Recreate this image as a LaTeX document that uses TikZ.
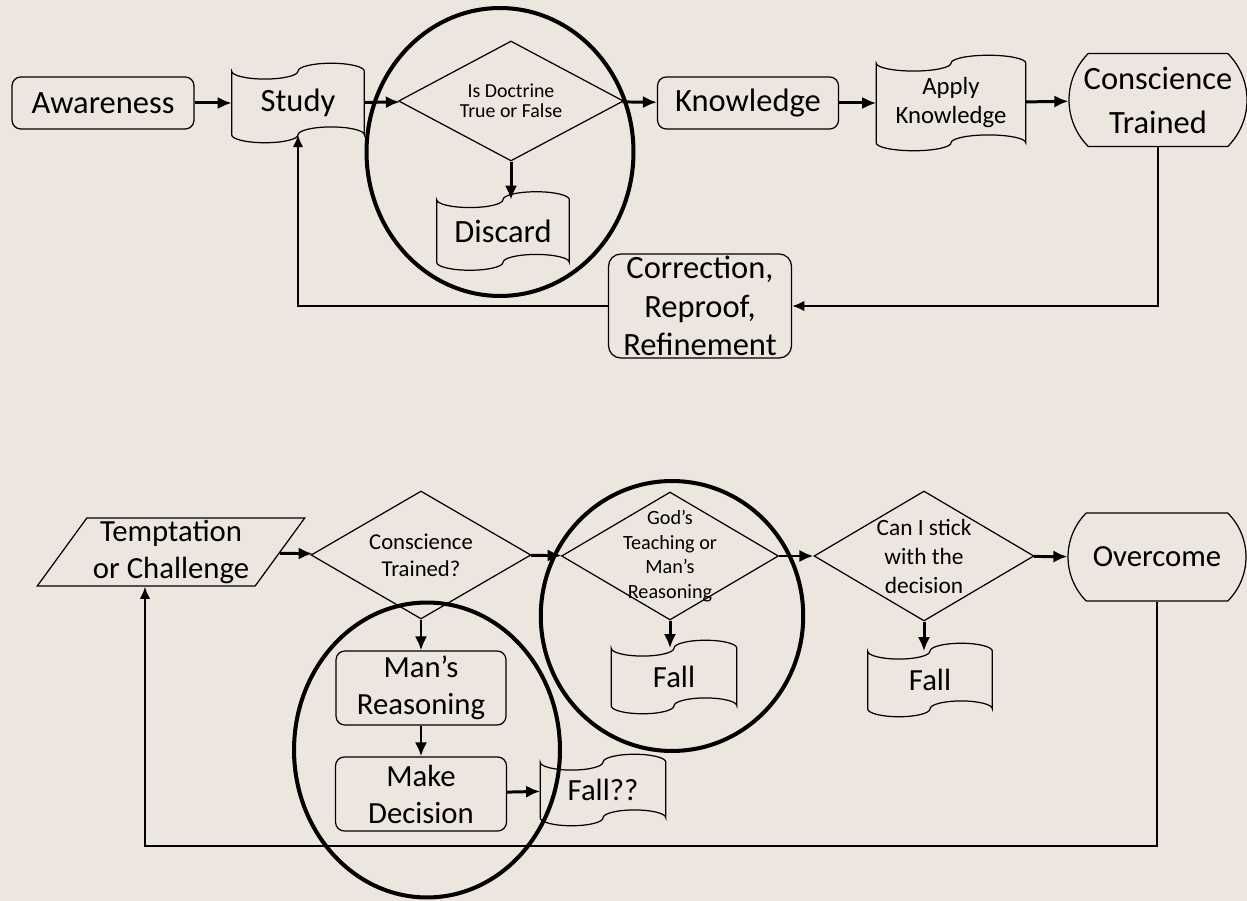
\documentclass[tikz,border=0pt]{standalone}
\usepackage{fontspec}
\setmainfont{Carlito}
\usetikzlibrary{shapes.geometric}
\usetikzlibrary{shapes.misc}
\usetikzlibrary{arrows.meta}
\usetikzlibrary{calc}
\definecolor{slide-bg}{HTML}{EDE6DE}
\newcommand{\mainsize}{\fontsize{17.5}{21}\selectfont}
\newcommand{\topsize}{\fontsize{18.5}{22}\selectfont}
\tikzset{
  proc-box/.style={draw, line width=0.7pt, rounded corners=5pt, align=center, inner sep=0pt, font=\mainsize},
  tape-box/.style={align=center, inner sep=0pt, font=\mainsize},
  choice-box/.style={draw, line width=0.7pt, diamond, aspect=1.8, align=center, inner sep=-8pt},
  end-box/.style={draw, line width=0.7pt, rounded rectangle, rounded rectangle arc length=90, align=center, inner sep=0pt, font=\mainsize},
  ring/.style={draw, line width=2.3pt, ellipse, inner sep=0pt},
  flow-in/.style={line width=1.7pt, {Latex[length=8pt, width=7pt]}-},
  flow-path/.style={line width=1.7pt, -{Latex[length=8pt, width=7pt]}},
  back-path/.style={line width=1.2pt, -{Latex[length=7pt, width=6pt]}},
}
\begin{document}
\begin{tikzpicture}[x=0.02cm, y=-0.02cm]
\path[use as bounding box, fill=slide-bg] (0, 0) rectangle (1247, 901);
\node[proc-box, font=\topsize, minimum width=3.64cm, minimum height=1.04cm] at (103, 103) (aware) {Awareness};
\node[tape-box, font=\topsize, minimum width=2.64cm, minimum height=1.26cm] at (298, 103) (study) {Study}
  edge [flow-in] (aware);
\node[choice-box, minimum width=4.5cm, minimum height=2.4cm, font=\fontsize{11.3}{11.3}\selectfont] at (511, 101) (doct) {Is Doctrine\\True or False}
  edge [flow-in] (study);
\node[tape-box, font=\topsize, minimum width=2.64cm, minimum height=1.24cm] at (503, 231) (discard) {Discard};
\node[proc-box, font=\topsize, minimum width=3.62cm, minimum height=1.04cm] at (748, 103) (know) {Knowledge}
  edge [flow-in] (doct);
\node[tape-box, minimum width=2.98cm, minimum height=1.58cm, font=\fontsize{14.1}{16.5}\selectfont] at (951, 103) (apply) {Apply\\Knowledge}
  edge [flow-in] (know);
\node[end-box, font=\topsize, minimum width=3.56cm, minimum height=1.86cm] at (1158, 100) (consc) {Conscience\\[3pt]Trained}
  edge [flow-in] (apply);
\node[proc-box, font=\topsize, rounded corners=7pt, minimum width=3.66cm, minimum height=2.08cm] at (700, 306) (correct) {Correction,\\Reproof,\\Refinement};
\draw[flow-path] (doct.south) -- (doct.south |- discard.north);
\draw[back-path] (consc.south) |- (correct.east);
\draw[back-path] (correct.west) -| (study.south);
\node[ring, minimum width=5.34cm, minimum height=5.76cm] at (500, 152) (ring-top) {};

\node[draw, line width=0.7pt, trapezium, trapezium left angle=52, trapezium right angle=128, trapezium stretches body, minimum width=5.35cm, minimum height=1.36cm, align=center, inner sep=0pt, font=\mainsize] at (171, 552) (tempt) {Temptation\\or Challenge};
\node[choice-box, minimum width=4.4cm, minimum height=2.56cm, font=\fontsize{12.9}{15.5}\selectfont] at (421, 555) (ctq) {Conscience\\Trained?}
  edge [flow-in] (tempt);
\node[choice-box, minimum width=4.34cm, minimum height=2.56cm, font=\fontsize{11.5}{14}\selectfont] at (670, 556) (gods) {God’s\\Teaching or\\Man’s\\Reasoning}
  edge [flow-in] (ctq);
\node[choice-box, minimum width=4.4cm, minimum height=2.6cm, font=\fontsize{13.3}{16.5}\selectfont] at (924, 556) (stick) {Can I stick\\with the\\decision}
  edge [flow-in] (gods);
\node[end-box, minimum width=3.56cm, minimum height=1.76cm] at (1157, 557) (over) {Overcome}
  edge [flow-in] (stick);
\node[proc-box, minimum width=3.4cm, minimum height=1.48cm] at (421, 688) (mans) {Man’s\\Reasoning};
\node[proc-box, minimum width=3.42cm, minimum height=1.48cm] at (421, 794) (make) {Make\\Decision}
  edge [flow-in] (mans);
\node[tape-box, minimum width=2.5cm, minimum height=1.1cm] at (603, 790) (fall-q) {Fall??}
  edge [flow-in] (make);
\node[tape-box, minimum width=2.5cm, minimum height=1.14cm] at (674, 677) (fall-a) {Fall};
\node[tape-box, minimum width=2.48cm, minimum height=1.14cm] at (930, 680) (fall-b) {Fall};
\draw[flow-path] (ctq.south) -- (ctq.south |- mans.north);
\draw[flow-path] (gods.south) -- (gods.south |- fall-a.north);
\draw[flow-path] (stick.south) -- (stick.south |- fall-b.north);
\coordinate (loop-corner) at (145, 846);
\draw[back-path] (over.south) |- (loop-corner) -- (loop-corner |- tempt.south);
\node[ring, minimum width=5.32cm, minimum height=5.9cm] at (427, 750) (ring-left) {};
\node[ring, minimum width=5.25cm, minimum height=5.4cm] at (672, 616) (ring-right) {};

\foreach \t in {study, discard, apply, fall-q, fall-a, fall-b}
  \draw[line width=0.7pt] let \p1=(\t.north west), \p2=(\t.south east), \n1={(\x2-\x1)/4} in
    (\p1) arc[start angle=180, end angle=360, x radius=\n1, y radius=4.5pt]
    arc[start angle=180, end angle=0, x radius=\n1, y radius=4.5pt]
    -- (\p2) arc[start angle=0, end angle=180, x radius=\n1, y radius=4.5pt]
    arc[start angle=0, end angle=-180, x radius=\n1, y radius=4.5pt] -- cycle;
\end{tikzpicture}
\end{document}
